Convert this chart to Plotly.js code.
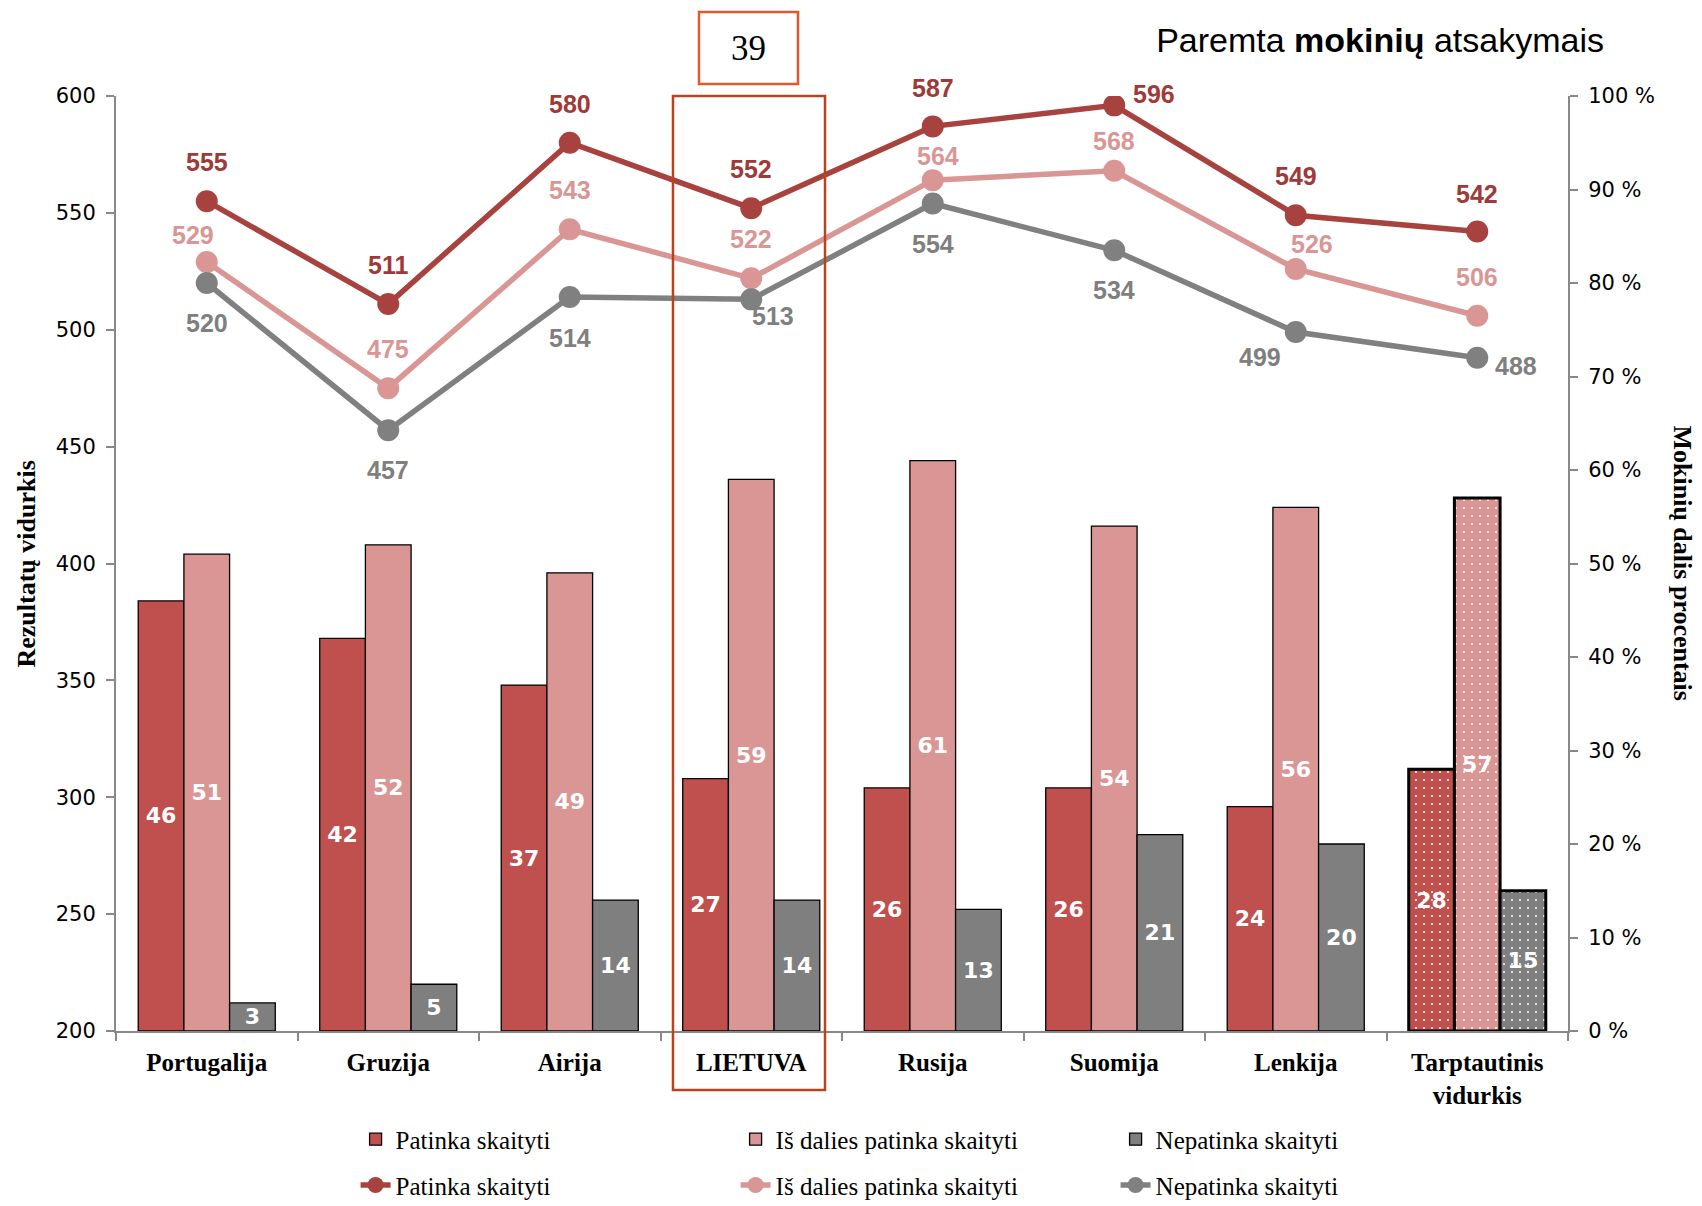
<!DOCTYPE html>
<html>
<head>
<meta charset="utf-8">
<script src="https://cdn.plot.ly/plotly-3.0.1.min.js"></script>
<style>html,body{margin:0;padding:0;background:#fff;}#chart{width:1702px;height:1206px;}</style>
</head>
<body>
<div id="chart"></div>
<script>
// ---- data ----
const categories = ['Portugalija','Gruzija','Airija','LIETUVA','Rusija','Suomija','Lenkija','Tarptautinis<br>vidurkis'];
const barPatinka = [46,42,37,27,26,26,24,28];
const barIsDalies = [51,52,49,59,61,54,56,57];
const barNepatinka = [3,5,14,14,13,21,20,15];
const scorePatinka = [555,511,580,552,587,596,549,542];
const scoreIsDalies = [529,475,543,522,564,568,526,506];
const scoreNepatinka = [520,457,514,513,554,534,499,488];
const seriesNames = ['Patinka skaityti','Iš dalies patinka skaityti','Nepatinka skaityti'];

// ---- styles ----
const cRedBar = '#C0504D', cPinkBar = '#D99694', cGrayBar = '#7F7F7F';
const cRedLine = '#A8423F', cPinkLine = '#DA9694', cGrayLine = '#808080';
const cRedText = '#9E3A38', cPinkText = '#DA9694', cGrayText = '#7F7F7F';
const n = categories.length;
const lastIdx = n - 1;
const patternShapes = categories.map((c,i) => i === lastIdx ? '.' : '');
const outlineWidths = categories.map((c,i) => i === lastIdx ? 3 : 1.3);

// label offsets (px) for line value labels
const offPatinka = {dx:[0,0,0,0,0,40,0,0], dy:[39,39,39,39,38,11,39,38]};
const offIsDalies = {dx:[-14,0,0,0,5,0,16,0], dy:[27,39,39,39,24,30,25,39]};
const offNepatinka = {dx:[0,0,0,22,0,0,-36,39], dy:[-40,-40,-41,-17,-40,-40,-25,-8]};

function barTrace(vals, color, name) {
  return {
    type:'bar', x:categories, y:vals, name:name, yaxis:'y2', legend:'legend',
    text: vals.map(String), textposition:'inside', insidetextanchor:'middle', textangle:0,
    textfont:{family:'DejaVu Sans', size:22, color:'#FFFFFF', weight:'bold'},
    marker:{color:color, line:{color:'#000000', width:outlineWidths},
            pattern:{shape:patternShapes, fgcolor:'#FFFFFF', bgcolor:color, size:8, solidity:0.05, fillmode:'replace'}},
    hoverinfo:'skip', cliponaxis:false
  };
}
function lineTrace(vals, color, name) {
  return {
    type:'scatter', mode:'lines+markers', x:categories, y:vals, name:name, yaxis:'y', legend:'legend2',
    line:{color:color, width:5.5}, marker:{color:color, size:22}, hoverinfo:'skip'
  };
}
function labelAnns(vals, off, color) {
  return vals.map((v,i) => ({
    x:categories[i], y:v, xref:'x', yref:'y', text:String(v), showarrow:false,
    xshift:off.dx[i], yshift:off.dy[i],
    font:{family:'Liberation Sans Narrow, Liberation Sans, sans-serif', size:25, color:color, weight:'bold'}
  }));
}

const traces = [
  barTrace(barPatinka, cRedBar, seriesNames[0]),
  barTrace(barIsDalies, cPinkBar, seriesNames[1]),
  barTrace(barNepatinka, cGrayBar, seriesNames[2]),
  lineTrace(scorePatinka, cRedLine, seriesNames[0]),
  lineTrace(scoreIsDalies, cPinkLine, seriesNames[1]),
  lineTrace(scoreNepatinka, cGrayLine, seriesNames[2])
];

const axisGray = '#888888';
const tickFont = {family:'DejaVu Sans', size:21, color:'#000000'};

const annotations = []
  .concat(labelAnns(scorePatinka, offPatinka, cRedText))
  .concat(labelAnns(scoreIsDalies, offIsDalies, cPinkText))
  .concat(labelAnns(scoreNepatinka, offNepatinka, cGrayText))
  .concat([
    {xref:'paper', yref:'paper', x:-0.0613, y:0.5, text:'Rezultatų vidurkis', textangle:-90, showarrow:false,
     xanchor:'center', yanchor:'middle', font:{family:'Liberation Serif', size:26, color:'#000', weight:'bold'}},
    {xref:'paper', yref:'paper', x:1.0792, y:0.5, text:'Mokinių dalis procentais', textangle:90, showarrow:false,
     xanchor:'center', yanchor:'middle', font:{family:'Liberation Serif', size:26, color:'#000', weight:'bold'}},
    {xref:'paper', yref:'paper', x:0.4356, y:1.0513, text:'39', showarrow:false,
     xanchor:'center', yanchor:'middle', font:{family:'Liberation Serif', size:35, color:'#000'}}
  ]);

const legendFont = {family:'Liberation Serif', size:25, color:'#000'};
const layout = {
  width:1702, height:1206,
  margin:{l:116, r:134, t:96, b:175, autoexpand:false},
  paper_bgcolor:'#FFFFFF', plot_bgcolor:'#FFFFFF',
  showlegend:true,
  title:{text:'Paremta <b>mokinių</b> atsakymais', x:0.9424, xanchor:'right', y:0.9668, yanchor:'middle',
         font:{family:'Liberation Sans, Arial, sans-serif', size:34, color:'#000'}},
  barmode:'group', bargap:0.245, bargroupgap:0,
  xaxis:{type:'category', automargin:false, showline:true, linecolor:axisGray, linewidth:2, ticks:'outside', tickson:'boundaries',
         ticklen:8, tickcolor:axisGray, tickwidth:2, showgrid:false, zeroline:false, ticklabelstandoff:8,
         tickfont:{family:'Liberation Serif', size:25, color:'#000', weight:'bold'}},
  yaxis:{range:[200,600], dtick:50, automargin:false, showline:true, linecolor:axisGray, linewidth:2, ticks:'outside', ticklen:8,
         tickcolor:axisGray, tickwidth:2, showgrid:false, zeroline:false, tickfont:tickFont, ticklabelstandoff:6},
  yaxis2:{range:[0,100], dtick:10, overlaying:'y', side:'right', automargin:false, showline:true, linecolor:axisGray, linewidth:2,
          ticks:'outside', ticklen:8, tickcolor:axisGray, tickwidth:2, showgrid:false, zeroline:false,
          ticksuffix:' %', tickfont:tickFont, ticklabelstandoff:6},
  legend:{orientation:'h', x:0.165, xanchor:'left', y:-0.116, yanchor:'middle', entrywidth:335, entrywidthmode:'pixels',
          font:legendFont, bgcolor:'rgba(0,0,0,0)', traceorder:'normal'},
  legend2:{orientation:'h', x:0.165, xanchor:'left', y:-0.165, yanchor:'middle', entrywidth:335, entrywidthmode:'pixels',
          font:legendFont, bgcolor:'rgba(0,0,0,0)', traceorder:'normal'},
  uniformtext:{mode:'show', minsize:22},
  shapes:[
    {type:'rect', xref:'paper', yref:'paper', x0:0.3836, x1:0.4883, y0:-0.063, y1:1.0,
     line:{color:'#B8431F', width:2.5}, fillcolor:'rgba(0,0,0,0)', layer:'above'},
    {type:'rect', xref:'paper', yref:'paper', x0:0.4015, x1:0.4697, y0:1.0128, y1:1.0898,
     line:{color:'#E2572B', width:2.5}, fillcolor:'rgba(0,0,0,0)'}
  ],
  annotations:annotations
};

Plotly.newPlot('chart', traces, layout, {displayModeBar:false, staticPlot:true});
</script>
</body>
</html>
